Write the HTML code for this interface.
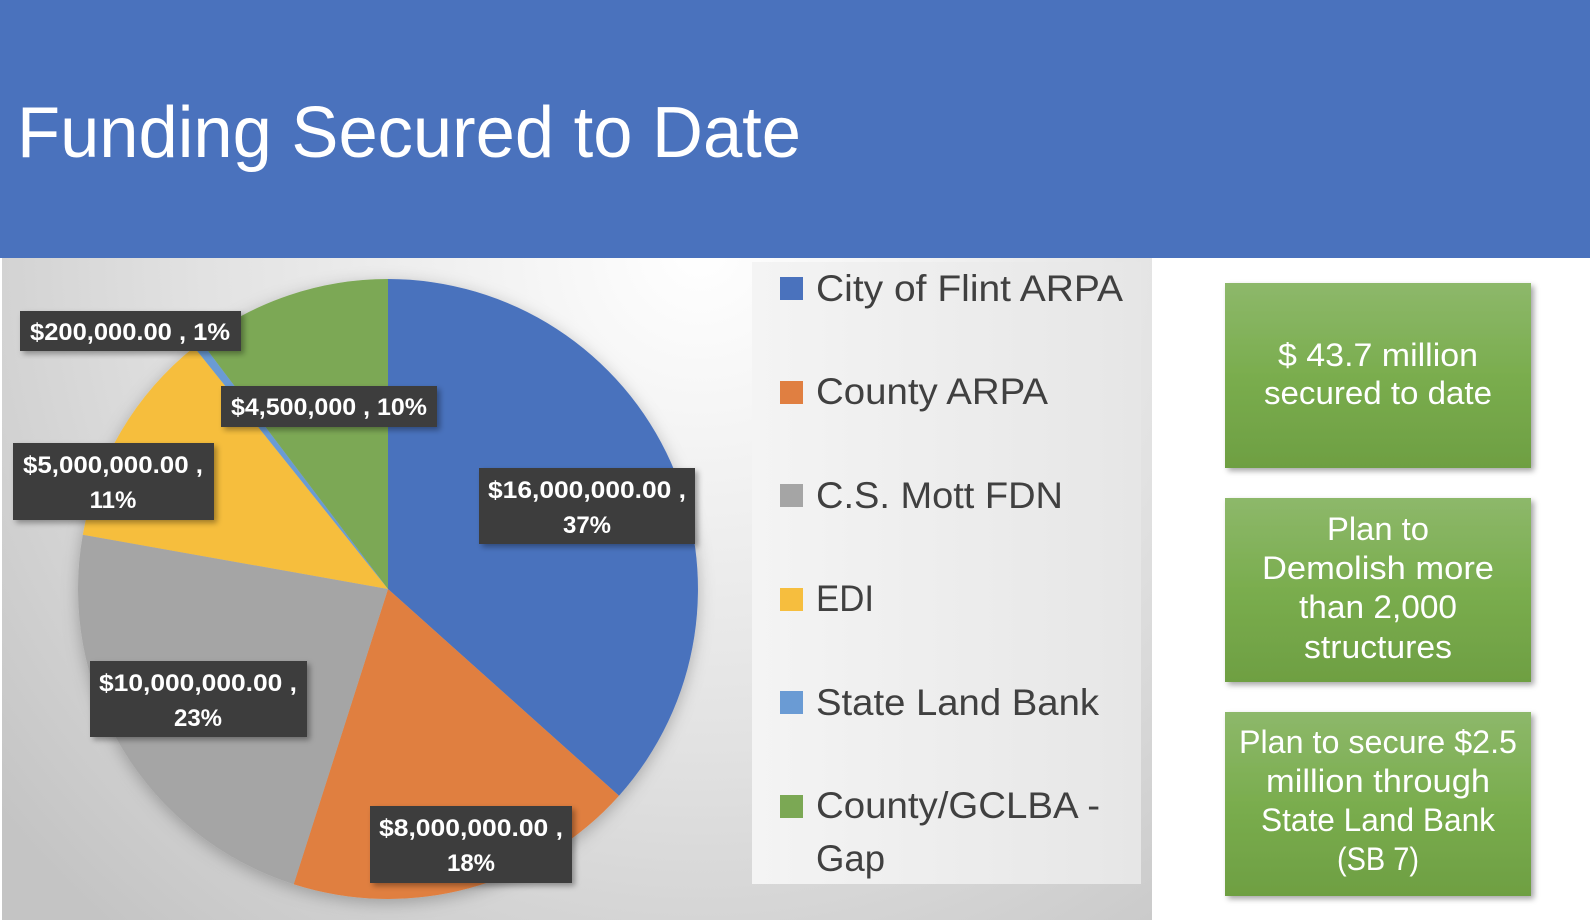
<!DOCTYPE html>
<html><head><meta charset="utf-8"><style>
html,body{margin:0;padding:0;background:#fff;}
svg{display:block;}
</style></head><body>
<svg width="1590" height="920" viewBox="0 0 1590 920" xmlns="http://www.w3.org/2000/svg" font-family="Liberation Sans, DejaVu Sans, sans-serif">
<defs>
<radialGradient id="bg" cx="700" cy="250" r="900" gradientUnits="userSpaceOnUse">
<stop offset="0" stop-color="#ffffff"/><stop offset="0.55" stop-color="#e2e2e2"/><stop offset="1" stop-color="#c4c4c4"/>
</radialGradient>
<linearGradient id="lg" x1="0" y1="0" x2="1" y2="0">
<stop offset="0" stop-color="#f4f4f4"/><stop offset="1" stop-color="#e6e6e6"/>
</linearGradient>
<linearGradient id="gb" x1="0" y1="0" x2="0" y2="1">
<stop offset="0" stop-color="#8db86a"/><stop offset="0.5" stop-color="#7aad4e"/><stop offset="1" stop-color="#6e9f42"/>
</linearGradient>
<filter id="sh" x="-10%" y="-10%" width="130%" height="130%"><feDropShadow dx="3" dy="3" stdDeviation="3" flood-color="#000" flood-opacity="0.35"/></filter>
<filter id="psh" x="-10%" y="-10%" width="130%" height="130%"><feDropShadow dx="0" dy="4" stdDeviation="8" flood-color="#000" flood-opacity="0.25"/></filter>
</defs>
<rect x="0" y="0" width="1590" height="920" fill="#fff"/>
<rect x="0" y="0" width="1590" height="258" fill="#4a72bd"/>
<text x="17" y="157" font-size="72" fill="#fff" textLength="784" lengthAdjust="spacingAndGlyphs">Funding Secured to Date</text>
<rect x="2" y="258" width="1150" height="662" fill="url(#bg)"/>
<rect x="752" y="262" width="389" height="622" fill="url(#lg)"/>
<g filter="url(#psh)">
<path d="M388,589 L388,279 A310,310 0 0 1 619.0,795.7 Z" fill="#4a72bd"/>
<path d="M388,589 L619.0,795.7 A310,310 0 0 1 293.7,884.3 Z" fill="#e07f41"/>
<path d="M388,589 L293.7,884.3 A310,310 0 0 1 82.8,534.7 Z" fill="#a5a5a5"/>
<path d="M388,589 L82.8,534.7 A310,310 0 0 1 194.1,347.1 Z" fill="#f6be3e"/>
<path d="M388,589 L194.1,347.1 A310,310 0 0 1 201.1,341.7 Z" fill="#6a9bd4"/>
<path d="M388,589 L201.1,341.7 A310,310 0 0 1 388,279 Z" fill="#7ba854"/>
</g>
<g font-weight="bold" font-size="24" fill="#fff" text-anchor="middle">
<rect x="20" y="311" width="221" height="40" fill="#3d3d3d" filter="url(#sh)"/>
<text x="130" y="340" textLength="200" lengthAdjust="spacingAndGlyphs">$200,000.00 , 1%</text>
<rect x="221" y="386" width="216" height="41" fill="#3d3d3d" filter="url(#sh)"/>
<text x="329" y="415" textLength="196" lengthAdjust="spacingAndGlyphs">$4,500,000 , 10%</text>
<rect x="13" y="443" width="201" height="77" fill="#3d3d3d" filter="url(#sh)"/>
<text x="113" y="473" textLength="180" lengthAdjust="spacingAndGlyphs">$5,000,000.00 ,</text>
<text x="113" y="508">11%</text>
<rect x="479" y="468" width="216" height="76" fill="#3d3d3d" filter="url(#sh)"/>
<text x="587" y="498" textLength="198" lengthAdjust="spacingAndGlyphs">$16,000,000.00 ,</text>
<text x="587" y="533">37%</text>
<rect x="90" y="661" width="217" height="76" fill="#3d3d3d" filter="url(#sh)"/>
<text x="198" y="691" textLength="198" lengthAdjust="spacingAndGlyphs">$10,000,000.00 ,</text>
<text x="198" y="726">23%</text>
<rect x="370" y="806" width="202" height="77" fill="#3d3d3d" filter="url(#sh)"/>
<text x="471" y="836" textLength="184" lengthAdjust="spacingAndGlyphs">$8,000,000.00 ,</text>
<text x="471" y="871">18%</text>
</g>
<g font-size="37" fill="#404040">
<rect x="780" y="277" width="23" height="23" fill="#4a72bd"/>
<text x="816" y="301" textLength="307" lengthAdjust="spacingAndGlyphs">City of Flint ARPA</text>
<rect x="780" y="381" width="23" height="23" fill="#e07f41"/>
<text x="816" y="404" textLength="232" lengthAdjust="spacingAndGlyphs">County ARPA</text>
<rect x="780" y="484" width="23" height="23" fill="#a5a5a5"/>
<text x="816" y="508" textLength="247" lengthAdjust="spacingAndGlyphs">C.S. Mott FDN</text>
<rect x="780" y="588" width="23" height="23" fill="#f6be3e"/>
<text x="816" y="611" textLength="58" lengthAdjust="spacingAndGlyphs">EDI</text>
<rect x="780" y="691" width="23" height="23" fill="#6a9bd4"/>
<text x="816" y="715" textLength="283" lengthAdjust="spacingAndGlyphs">State Land Bank</text>
<rect x="780" y="795" width="23" height="23" fill="#7ba854"/>
<text x="816" y="818" textLength="284" lengthAdjust="spacingAndGlyphs">County/GCLBA -</text>
<text x="816" y="871" textLength="69" lengthAdjust="spacingAndGlyphs">Gap</text>
</g>
<g font-size="32" fill="#fff" text-anchor="middle">
<rect x="1225" y="283" width="306" height="185" fill="url(#gb)" filter="url(#sh)"/>
<text x="1378" y="366" textLength="200" lengthAdjust="spacingAndGlyphs">$ 43.7 million</text>
<text x="1378" y="404" textLength="228" lengthAdjust="spacingAndGlyphs">secured to date</text>
<rect x="1225" y="498" width="306" height="184" fill="url(#gb)" filter="url(#sh)"/>
<text x="1378" y="540" textLength="102" lengthAdjust="spacingAndGlyphs">Plan to</text>
<text x="1378" y="579" textLength="232" lengthAdjust="spacingAndGlyphs">Demolish  more</text>
<text x="1378" y="618" textLength="158" lengthAdjust="spacingAndGlyphs">than 2,000</text>
<text x="1378" y="658" textLength="148" lengthAdjust="spacingAndGlyphs">structures</text>
<rect x="1225" y="712" width="306" height="184" fill="url(#gb)" filter="url(#sh)"/>
<text x="1378" y="753" textLength="278" lengthAdjust="spacingAndGlyphs">Plan to secure $2.5</text>
<text x="1378" y="792" textLength="224" lengthAdjust="spacingAndGlyphs">million through</text>
<text x="1378" y="831" textLength="234" lengthAdjust="spacingAndGlyphs">State Land Bank</text>
<text x="1378" y="870" textLength="82" lengthAdjust="spacingAndGlyphs">(SB 7)</text>
</g>
</svg>
</body></html>
